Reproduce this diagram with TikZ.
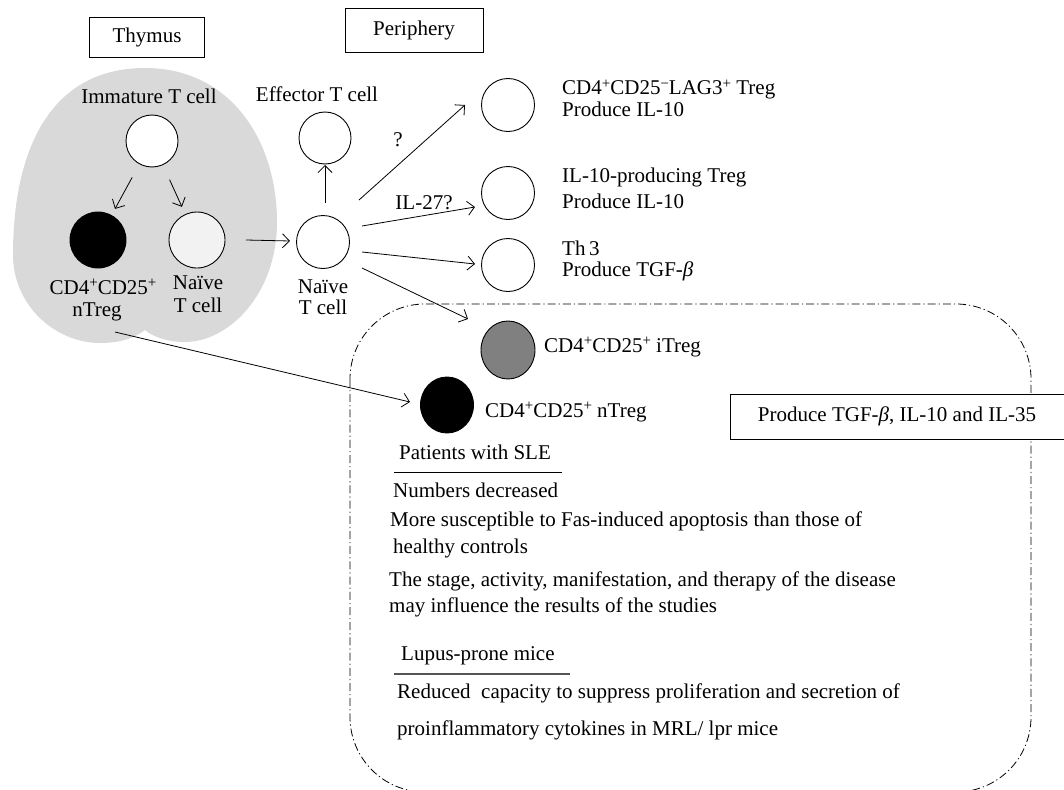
\documentclass[tikz,border=0pt]{standalone}
\usepackage{fontspec}
\setmainfont{Liberation Serif}
\usetikzlibrary{arrows.meta,calc,shapes.geometric}
\definecolor{blobgray}{RGB}{217,217,217}
\definecolor{lightcell}{RGB}{242,242,242}
\definecolor{midgray}{RGB}{128,128,128}
\definecolor{linegray}{RGB}{85,85,85}
\newcommand{\sps}[1]{\raisebox{0.3em}{\fontsize{15}{15}\selectfont #1}}
\begin{document}
\begin{tikzpicture}[x=1pt,y=-1pt,
  every node/.style={font=\fontsize{21}{24}\selectfont, inner sep=0pt},
  cellnode/.style={circle, draw, line width=0.9pt, minimum size=53pt, fill=white},
  txt/.style={anchor=base west},
  ctxt/.style={anchor=base},
  labelbox/.style={draw, line width=0.8pt, fill=white},
  arr/.style={line width=0.8pt, -{Straight Barb[length=7pt,width=14pt]}},
  dashdotline/.style={line width=0.8pt, dash pattern=on 8pt off 3pt on 1.2pt off 3pt}
]
\useasboundingbox (0,0) rectangle (1064,789);

% thymus region
\fill[blobgray] (145,330) .. controls (135,338) and (120,343) .. (100,343)
  .. controls (55,343) and (13,305) .. (13,255)
  .. controls (13,150) and (50,68) .. (145,68)
  .. controls (230,68) and (277,140) .. (277,222)
  .. controls (277,295) and (228,342) .. (185,342)
  .. controls (168,342) and (153,337) .. (145,330) -- cycle;

% dash-dot region
\begin{scope}
\clip (0,0) rectangle (1064,789);
\draw[dashdotline, rounded corners=75pt] (350,304) rectangle (1031,792);
\end{scope}

% header boxes
\node[labelbox, minimum width=115pt, minimum height=40pt] (thy) at (147,37) {Thymus};
\node[labelbox, minimum width=138pt, minimum height=44pt] (per) at (414,30) {Periphery};

% thymus cells
\node[ctxt] (immlbl) at (149,103) {Immature T cell};
\node[cellnode, minimum size=52pt] (imm) at (152,141) {};
\node[cellnode, minimum size=56pt, fill=black] (ntt) at (98,240) {};
\node[cellnode, minimum size=56pt, fill=lightcell] (nat) at (197,240) {};
\node[ctxt] (nttl1) at (103,294) {CD4\sps{+}CD25\sps{+}};
\node[ctxt] (nttl2) at (97,316) {nTreg};
\node[ctxt] (natl1) at (198,289) {Naïve};
\node[ctxt] (natl2) at (198,312) {T cell};

% periphery cells
\node[cellnode] (npt) at (323,242) {};
\node[ctxt] (nptl1) at (323,293) {Naïve};
\node[ctxt] (nptl2) at (323,314) {T cell};
\node[cellnode, minimum size=52pt] (eff) at (325,138) {};
\node[ctxt] (effl) at (317,102) {Effector T cell};

\node[cellnode] (lag) at (508,105) {};
\node[cellnode] (ilp) at (508,193) {};
\node[cellnode] (th3) at (508,265) {};
\node[draw, ellipse, line width=0.9pt, fill=midgray, minimum width=54pt, minimum height=58pt] (itr) at (508,350) {};
\node[draw, ellipse, line width=0.9pt, fill=black, minimum width=53pt, minimum height=56pt] (ntr) at (447,405) {};

% labels right
\node[txt] (lagl1) at (562,95) {CD4\sps{+}CD25\sps{−}LAG3\sps{+} Treg};
\node[txt] (lagl2) at (562,117) {Produce IL-10};
\node[txt] (ilpl1) at (562,182) {IL-10-producing Treg};
\node[txt] (ilpl2) at (562,208) {Produce IL-10};
\node[txt] (th3l1) at (562,255) {Th\,3};
\node[txt] (th3l2) at (562,276) {Produce TGF-\textit{β}};
\node[txt] (itrl) at (544,352) {CD4\sps{+}CD25\sps{+} iTreg};
\node[txt] (ntrl) at (485,417) {CD4\sps{+}CD25\sps{+} nTreg};

\node[labelbox, minimum width=334pt, minimum height=45pt] (prod) at (897,416.5) {Produce TGF-\textit{β}, IL-10 and IL-35};

% connectors
\draw[arr, shorten <=15pt, shorten >=7pt] (imm) -- (ntt);
\draw[arr, shorten <=16pt, shorten >=8pt] (imm) -- (nat);
\draw[arr] ($(nat)+(49,0)$) -- ($(npt)+(-33,-1)$);
\draw[arr] ($(npt)+(2,-39)$) -- ($(eff)+(0,27)$);
\draw[arr] ($(npt)+(36,-42)$) -- ($(lag)+(-43,0)$);
\draw[arr] ($(npt)+(39,-16)$) -- ($(ilp)+(-33,14)$);
\draw[arr] ($(npt)+(39,10)$) -- ($(th3)+(-33,-1)$);
\draw[arr] ($(npt)+(39,26)$) -- ($(itr)+(-40,-31)$);
\draw[arr] ($(ntt)+(17,92)$) -- ($(ntr)+(-37,-3)$);

\node[ctxt] (q) at (398,146) {?};
\node[ctxt] (il27) at (424,209) {IL-27?};

% SLE text
\node[txt] (sle) at (399,459) {Patients with SLE};
\coordinate (sleA) at (394,472);
\coordinate (sleB) at (562,472);
\draw[line width=1pt] (sleA) -- (sleB);
\node[txt] (t1) at (393,497) {Numbers decreased};
\node[txt] (t2) at (390,526) {More susceptible to Fas-induced apoptosis than those of};
\node[txt] (t3) at (393,553) {healthy controls};
\node[txt] (t4) at (389,586) {The stage, activity, manifestation, and therapy of the disease};
\node[txt] (t5) at (389,612) {may influence the results of the studies};
\node[txt] (lup) at (401,660) {Lupus-prone mice};
\coordinate (lupA) at (394,674);
\coordinate (lupB) at (570,674);
\draw[line width=1.4pt, linegray] (lupA) -- (lupB);
\node[txt] (t6) at (397,698) {Reduced\ \ capacity to suppress proliferation and secretion of};
\node[txt] (t7) at (397,735) {proinflammatory cytokines in MRL/ lpr mice};
\end{tikzpicture}
\end{document}
